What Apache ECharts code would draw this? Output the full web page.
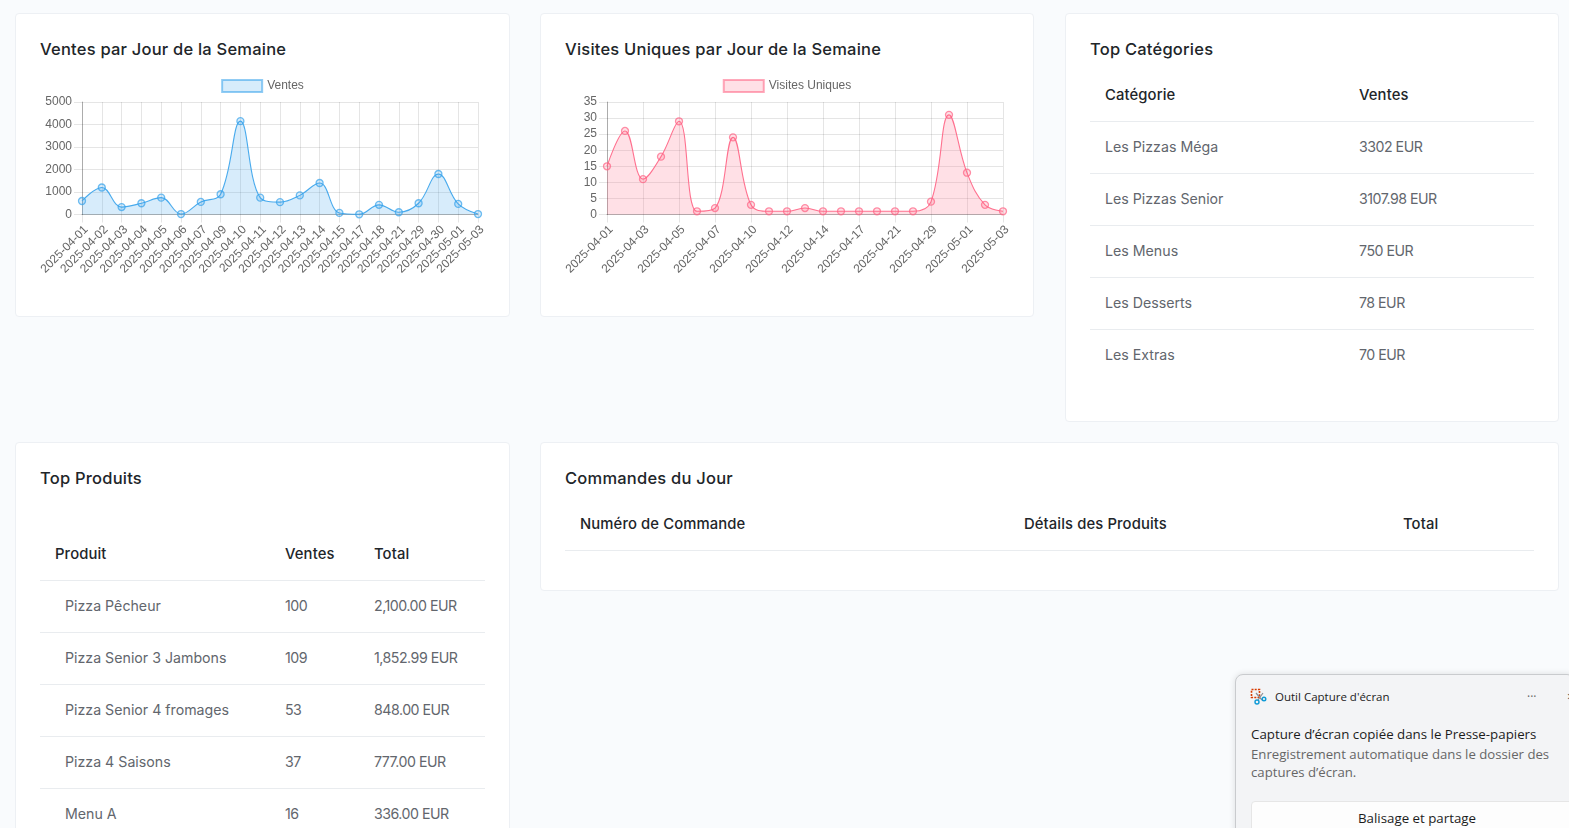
<!DOCTYPE html>
<html lang="fr"><head><meta charset="utf-8">
<script src="https://cdn.jsdelivr.net/npm/echarts@6/dist/echarts.min.js"></script>
<style>
html,body{margin:0;padding:0;width:1569px;height:828px;overflow:hidden;background:#f9fbfd;font-family:Inter,"Open Sans",sans-serif;color:#212529}
.card{position:absolute;background:#fff;border:1px solid #edf0f4;border-radius:4px;box-sizing:border-box}
.title{position:absolute;left:24px;font-size:16.5px;font-weight:500;letter-spacing:.22px;color:#212529;white-space:nowrap}
.chart{position:absolute}
.row{position:absolute;left:24px;right:24px;height:52px;border-bottom:1px solid #e9ecef;box-sizing:border-box}
.row.last{border-bottom:none}
.row.head{height:53px}
.cell{position:absolute;font-size:14.2px;color:#62666d;white-space:nowrap;line-height:20px;top:15px}
.cell.num{letter-spacing:-.5px}
.head .cell{color:#212529;font-weight:500;font-size:14.8px;letter-spacing:.12px;top:16px}
#toast{position:absolute;left:1235px;top:674px;width:340px;height:170px;background:#f3f4f6;border:1px solid #c9cbce;border-radius:8px;box-sizing:border-box;font-family:"Open Sans",sans-serif;box-shadow:0 0 6px rgba(0,0,0,.12)}
#toast div{position:absolute;white-space:nowrap}
</style></head><body>
<div class="card" style="left:15px;top:13px;width:495px;height:304px"><div class="title" style="top:25px">Ventes par Jour de la Semaine</div></div>
<div class="card" style="left:540px;top:13px;width:494px;height:304px"><div class="title" style="top:25px">Visites Uniques par Jour de la Semaine</div></div>
<div class="card" id="catCard" style="left:1065px;top:13px;width:494px;height:409px"><div class="title" style="top:25px">Top Catégories</div></div>
<div class="card" id="prodCard" style="left:15px;top:442px;width:495px;height:420px"><div class="title" style="top:25px">Top Produits</div></div>
<div class="card" id="cmdCard" style="left:540px;top:442px;width:1019px;height:149px"><div class="title" style="top:25px">Commandes du Jour</div></div>
<div class="chart" id="salesChart" style="left:16px;top:70px;width:493px;height:240px"></div>
<div class="chart" id="visitsChart" style="left:541px;top:70px;width:492px;height:240px"></div>
<div id="toast">
<svg style="position:absolute;left:14px;top:13px" width="18" height="18" viewBox="0 0 18 18"><rect x="1.5" y="1.5" width="8" height="8" fill="none" stroke="#d83b01" stroke-width="1.6" stroke-dasharray="2 1.2"/><path d="M6 5 L12 12 M13 5 L8 12" stroke="#8a8f96" stroke-width="1.2"/><circle cx="7" cy="14" r="2" fill="none" stroke="#0f9bd7" stroke-width="1.4"/><circle cx="14" cy="11" r="1.8" fill="none" stroke="#0f9bd7" stroke-width="1.4"/></svg>
<div style="left:39px;top:14px;font-size:11.5px;color:#222">Outil Capture d'écran</div>
<div style="left:291px;top:13px;font-size:12px;color:#666">···</div>
<div style="left:331px;top:12px;font-size:13px;color:#444">×</div>
<div style="left:15px;top:50px;font-size:13.3px;color:#1c1c1c">Capture d’écran copiée dans le Presse-papiers</div>
<div style="left:15px;top:70px;font-size:13.2px;color:#666">Enregistrement automatique dans le dossier des</div>
<div style="left:15px;top:88px;font-size:13.2px;color:#666">captures d’écran.</div>
<div style="left:15px;top:126px;width:332px;height:40px;background:#fdfdfd;border:1px solid #e6e6e6;border-radius:4px;text-align:center;padding-top:7px;font-size:13.3px;color:#1c1c1c;box-sizing:border-box"><span>Balisage et partage</span></div>
</div>
<script>
const salesDates = ['2025-04-01','2025-04-02','2025-04-03','2025-04-04','2025-04-05','2025-04-06','2025-04-07','2025-04-09','2025-04-10','2025-04-11','2025-04-12','2025-04-13','2025-04-14','2025-04-15','2025-04-17','2025-04-18','2025-04-21','2025-04-29','2025-04-30','2025-05-01','2025-05-03'];
const salesValues = [600,1200,330,500,750,20,560,900,4150,750,550,850,1400,70,10,430,100,500,1800,470,20];
const visitDates = ['2025-04-01','2025-04-02','2025-04-03','2025-04-04','2025-04-05','2025-04-06','2025-04-07','2025-04-09','2025-04-10','2025-04-11','2025-04-12','2025-04-13','2025-04-14','2025-04-15','2025-04-17','2025-04-18','2025-04-21','2025-04-22','2025-04-29','2025-04-30','2025-05-01','2025-05-02','2025-05-03'];
const visitValues = [15,26,11,18,29,1,2,24,3,1,1,2,1,1,1,1,1,1,4,31,13,3,1];
const categoryRows = [['Les Pizzas Méga','3302 EUR'],['Les Pizzas Senior','3107.98 EUR'],['Les Menus','750 EUR'],['Les Desserts','78 EUR'],['Les Extras','70 EUR']];
const productRows = [['Pizza Pêcheur','100','2,100.00 EUR'],['Pizza Senior 3 Jambons','109','1,852.99 EUR'],['Pizza Senior 4 fromages','53','848.00 EUR'],['Pizza 4 Saisons','37','777.00 EUR'],['Menu A','16','336.00 EUR']];

function addRow(card, top, cols, kind, xs){
  const r=document.createElement('div');
  r.className='row'+(kind?' '+kind:'');
  r.style.top=top+'px';
  cols.forEach((t,i)=>{
    const c=document.createElement('div');
    c.className='cell'+(i>0?' num':''); c.textContent=t; c.style.left=xs[i]+'px';
    r.appendChild(c);
  });
  card.appendChild(r);
}
const cat=document.getElementById('catCard');
addRow(cat,55,['Catégorie','Ventes'],'head',[15,269]);
categoryRows.forEach((r,i)=>addRow(cat,108+52*i,r,i===categoryRows.length-1?'last':'',[15,269]));
const prod=document.getElementById('prodCard');
addRow(prod,85,['Produit','Ventes','Total'],'head',[15,245,334]);
productRows.forEach((r,i)=>addRow(prod,138+52*i,r,'',[25,245,334]));
addRow(document.getElementById('cmdCard'),55,['Numéro de Commande','Détails des Produits','Total'],'head',[15,459,838]);

function lineOption(name, dates, values, rgb, max, step, tickEvery, left, width){
  const line='rgba('+rgb+',0.9)', soft='rgba('+rgb+',0.7)', edge='rgba('+rgb+',0.55)', fill='rgba('+rgb+',0.2)';
  const font='"Liberation Sans",Arial,sans-serif';
  return {
    animation:false,
    textStyle:{fontFamily:font},
    legend:{top:4,left:'center',itemWidth:40,itemHeight:12,itemGap:6,
      data:[{name:name,icon:'rect',itemStyle:{color:fill,borderColor:edge,borderWidth:2}}],
      textStyle:{color:'#666',fontSize:12,fontFamily:font}},
    grid:{left:left,top:32,width:width,height:112.5},
    xAxis:{type:'category',boundaryGap:false,data:dates,
      axisLine:{lineStyle:{color:'rgba(0,0,0,0.25)',width:1}},
      axisTick:{show:true,length:8,interval:tickEvery-1,lineStyle:{color:'rgba(0,0,0,0.1)'}},
      splitLine:{show:true,interval:tickEvery-1,lineStyle:{color:'rgba(0,0,0,0.1)',width:1}},
      axisLabel:{interval:tickEvery-1,rotate:45,color:'#666',fontSize:12,margin:9,verticalAlign:'top',fontFamily:font}},
    yAxis:{type:'value',min:0,max:max,interval:step,
      axisLine:{show:true,lineStyle:{color:'rgba(0,0,0,0.25)',width:1}},
      axisTick:{show:true,length:8,lineStyle:{color:'rgba(0,0,0,0.1)'}},
      splitLine:{show:true,lineStyle:{color:'rgba(0,0,0,0.1)',width:1}},
      axisLabel:{color:'#666',fontSize:12,margin:10,fontFamily:font,formatter:v=>String(v)}},
    series:[{name:name,type:'line',data:values,smooth:0.4,clip:false,symbol:'circle',symbolSize:7,showAllSymbol:true,
      lineStyle:{color:line,width:1.1},
      itemStyle:{color:fill,borderColor:soft,borderWidth:1.3},
      areaStyle:{color:fill,opacity:1}}]
  };
}
echarts.init(document.getElementById('salesChart')).setOption(lineOption('Ventes',salesDates,salesValues,'54,162,235',5000,1000,1,66,396));
echarts.init(document.getElementById('visitsChart')).setOption(lineOption('Visites Uniques',visitDates,visitValues,'255,99,132',35,5,2,66,396));
</script>
</body></html>
